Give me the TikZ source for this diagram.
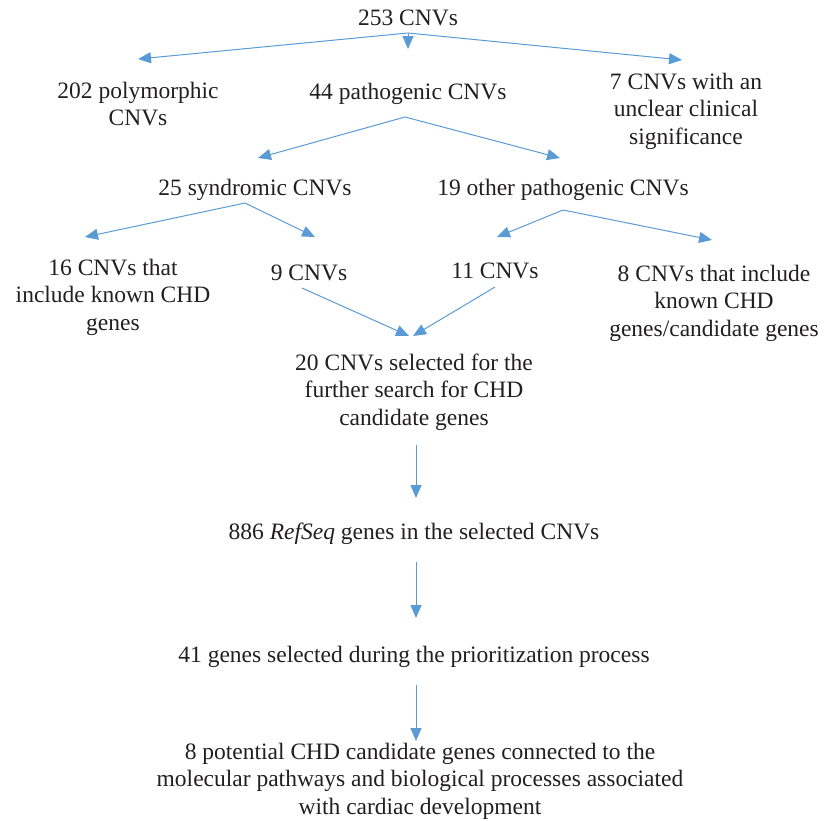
\documentclass[tikz,border=0pt]{standalone}
\usepackage{fontspec}
\setmainfont{Liberation Serif}
\usetikzlibrary{arrows.meta}
\definecolor{arrowblue}{HTML}{5B9BD5}
\definecolor{txt}{HTML}{231F20}
\begin{document}
\begin{tikzpicture}[x=1pt,y=-1pt,
  lbl/.style={inner sep=0pt,align=center,text=txt,font=\fontsize{23.5}{27.5}\selectfont},
  conn/.style={draw=arrowblue,line width=1pt,-{Triangle[length=13pt,width=11pt]}}]
\useasboundingbox (0,0) rectangle (826,820);
% nodes
\node[lbl] (root) at (408,18) {253 CNVs};
\node[lbl] (poly) at (138,104) {202 polymorphic\\CNVs};
\node[lbl] (path) at (408,94) {44 pathogenic CNVs};
\node[lbl] (uncl) at (686,111) {7 CNVs with an\\unclear clinical\\significance};
\node[lbl] (synd) at (255,190) {25 syndromic CNVs};
\node[lbl] (other) at (563,190) {19 other pathogenic CNVs};
\node[lbl] (known) at (113,297) {16 CNVs that\\include known CHD\\genes};
\node[lbl] (nine) at (309,273) {9 CNVs};
\node[lbl] (eleven) at (495,271) {11 CNVs};
\node[lbl] (eight) at (714,303) {8 CNVs that include\\known CHD\\genes/candidate genes};
\node[lbl] (twenty) at (414,392) {20 CNVs selected for the\\further search for CHD\\candidate genes};
\node[lbl] (refseq) at (414,534) {886 \textit{RefSeq} genes in the selected CNVs};
\node[lbl] (fortyone) at (414,657) {41 genes selected during the prioritization process};
\node[lbl] (final) at (420,781) {8 potential CHD candidate genes connected to the\\molecular pathways and biological processes associated\\with cardiac development};
% branch points and tips
\coordinate (o1) at (408,33);
\coordinate (t1a) at (138,59);
\coordinate (t1b) at (408,49);
\coordinate (t1c) at (682,60);
\coordinate (o2) at (405,117);
\coordinate (t2a) at (258,158);
\coordinate (t2b) at (560,158);
\coordinate (o3) at (245,203);
\coordinate (t3a) at (85,237);
\coordinate (t3b) at (315,237);
\coordinate (o4) at (563,210);
\coordinate (t4a) at (497,237);
\coordinate (t4b) at (712,240);
\coordinate (o5) at (302,288);
\coordinate (o6) at (495,287);
\coordinate (t5a) at (409,336);
\coordinate (t5b) at (413,336);
\coordinate (o7) at (416,445);
\coordinate (t7) at (416,498);
\coordinate (o8) at (416,562);
\coordinate (t8) at (416,618);
\coordinate (o9) at (416,685);
\coordinate (t9) at (416,741);
% connectors
\draw[conn] (o1) -- (t1a);
\draw[conn] (o1) -- (t1b);
\draw[conn] (o1) -- (t1c);
\draw[conn] (o2) -- (t2a);
\draw[conn] (o2) -- (t2b);
\draw[conn] (o3) -- (t3a);
\draw[conn] (o3) -- (t3b);
\draw[conn] (o4) -- (t4a);
\draw[conn] (o4) -- (t4b);
\draw[conn] (o5) -- (t5a);
\draw[conn] (o6) -- (t5b);
\draw[conn] (o7) -- (t7);
\draw[conn] (o8) -- (t8);
\draw[conn] (o9) -- (t9);
\end{tikzpicture}
\end{document}
